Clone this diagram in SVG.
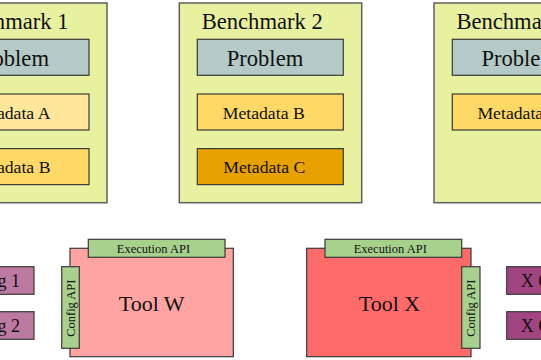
<svg xmlns="http://www.w3.org/2000/svg" width="541" height="360" viewBox="0 0 541 360">
<style>
  .bench{fill:#e8f1a0;stroke:#5f5f5f;stroke-width:1.5}
  .box{stroke:#3a3a3a;stroke-width:1.2}
  .problem{fill:#b3cac7}
  .mdA{fill:#ffe699}
  .mdB{fill:#ffd966}
  .mdC{fill:#e8a200}
  .toolW{fill:#ffa3a3}
  .toolX{fill:#ff6b6b}
  .api{fill:#a9d18e}
  .cfgW{fill:#bc7aa0}
  .cfgX{fill:#a0457f}
  text{font-family:"Liberation Serif","Times New Roman",serif;fill:#111}
  .t22{font-size:22.6px}
  .t18{font-size:17.7px}
  .tool{font-size:22px;text-anchor:middle}
  .apit{font-size:12.5px;text-anchor:middle}
  .cfgt{font-size:18px}
</style>
<g id="benchmark1">
  <rect class="bench" x="-75" y="3" width="182" height="199.7"/>
  <text class="t22" x="-52.6" y="28.7">Benchmark 1</text>
  <rect class="box problem" x="-57" y="39.3" width="146" height="36"/>
  <text class="t22" x="-27.6" y="65.5">Problem</text>
  <rect class="box mdA" x="-57" y="94" width="146" height="36"/>
  <text class="t18" x="-31.6" y="119">Metadata A</text>
  <rect class="box mdB" x="-57" y="148.6" width="146" height="36"/>
  <text class="t18" x="-31.6" y="173.4">Metadata B</text>
</g>
<g id="benchmark2">
  <rect class="bench" x="179.3" y="3" width="182.4" height="199.7"/>
  <text class="t22" x="201.7" y="28.7">Benchmark 2</text>
  <rect class="box problem" x="197.3" y="39.3" width="146" height="36"/>
  <text class="t22" x="226.7" y="65.5">Problem</text>
  <rect class="box mdB" x="197.3" y="94" width="146" height="36"/>
  <text class="t18" x="222.7" y="119">Metadata B</text>
  <rect class="box mdC" x="197.3" y="148.6" width="146" height="36"/>
  <text class="t18" x="223.3" y="173.4">Metadata C</text>
</g>
<g id="benchmark3">
  <rect class="bench" x="434" y="3" width="182" height="199.7"/>
  <text class="t22" x="456.4" y="28.7">Benchmark 3</text>
  <rect class="box problem" x="452.3" y="39.3" width="146" height="36"/>
  <text class="t22" x="481.4" y="65.5">Problem</text>
  <rect class="box mdB" x="452.3" y="94" width="146" height="36"/>
  <text class="t18" x="477.4" y="119">Metadata B</text>
</g>
<g id="toolW">
  <rect class="box toolW" x="70" y="248.3" width="163.3" height="108.4"/>
  <rect class="box api" x="88.3" y="239.3" width="136.7" height="18"/>
  <text class="apit" x="153.5" y="252.8">Execution API</text>
  <rect class="box api" x="61.7" y="266.7" width="17.6" height="81.6"/>
  <text class="apit" transform="translate(74.6 308.2) rotate(-90)">Config API</text>
  <text class="tool" x="151.7" y="310.7">Tool W</text>
</g>
<g id="toolX">
  <rect class="box toolX" x="306.7" y="248.3" width="164.3" height="108.4"/>
  <rect class="box api" x="325" y="239.3" width="136.7" height="18"/>
  <text class="apit" x="390.3" y="252.8">Execution API</text>
  <rect class="box api" x="461.7" y="266.7" width="18.3" height="81.6"/>
  <text class="apit" transform="translate(474.6 308.2) rotate(-90)">Config API</text>
  <text class="tool" x="389.5" y="310.7">Tool X</text>
</g>
<g id="wConfig1">
  <rect class="box cfgW" x="-75" y="266.7" width="109" height="27.6"/>
  <text class="cfgt" x="20" y="287" text-anchor="end">W Config 1</text>
</g>
<g id="wConfig2">
  <rect class="box cfgW" x="-75" y="311.7" width="109" height="27.6"/>
  <text class="cfgt" x="20" y="332" text-anchor="end">W Config 2</text>
</g>
<g id="xConfig1">
  <rect class="box cfgX" x="506.7" y="266.7" width="109" height="27.6"/>
  <text class="cfgt" x="520.7" y="287">X Config 1</text>
</g>
<g id="xConfig2">
  <rect class="box cfgX" x="506.7" y="311.7" width="109" height="27.6"/>
  <text class="cfgt" x="520.7" y="332">X Config 2</text>
</g>
<g id="connectors"></g>
</svg>
